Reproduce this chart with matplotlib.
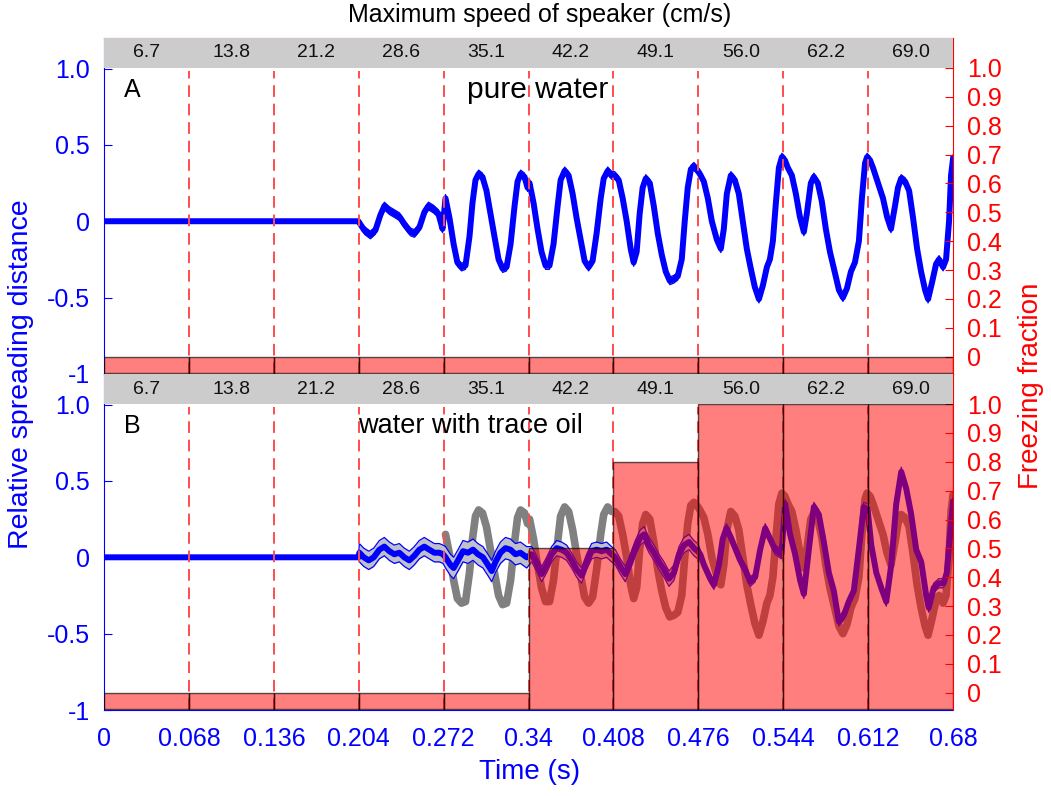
import numpy as np
import matplotlib
matplotlib.use('Agg')
import matplotlib.pyplot as plt

plt.rcParams['font.family'] = ['Liberation Sans', 'DejaVu Sans']

# ---------------- data ----------------
speeds = ['6.7', '13.8', '21.2', '28.6', '35.1', '42.2', '49.1', '56.0', '62.2', '69.0']
bin_edges = [0, 0.068, 0.136, 0.204, 0.272, 0.34, 0.408, 0.476, 0.544, 0.612, 0.68]
x_tick_labels = ['0', '0.068', '0.136', '0.204', '0.272', '0.34', '0.408', '0.476',
                 '0.544', '0.612', '0.68']
left_ticks = [-1, -0.5, 0, 0.5, 1.0]
left_tick_labels = ['-1', '-0.5', '0', '0.5', '1.0']
right_ticks = [0, 0.1, 0.2, 0.3, 0.4, 0.5, 0.6, 0.7, 0.8, 0.9, 1.0]
right_tick_labels = ['0', '0.1', '0.2', '0.3', '0.4', '0.5', '0.6', '0.7', '0.8', '0.9', '1.0']

freeze_A = [0, 0, 0, 0, 0, 0, 0, 0, 0, 0]
freeze_B = [0, 0, 0, 0, 0, 0.5, 0.8, 1.0, 1.0, 1.0]

# band half-width per speed interval
band_A = [0, 0, 0, 0.025, 0.025, 0.025, 0.025, 0.025, 0.025, 0.025]
band_B = [0, 0, 0, 0.06, 0.07, 0.05, 0.05, 0.03, 0.03, 0.03]

# pure water (panel A; also grey reference in panel B)
t_A = [0.0, 0.2037, 0.2085, 0.2133, 0.2173, 0.2213, 0.2245, 0.2285, 0.2326, 0.2366,
       0.2406, 0.2454, 0.2486, 0.2526, 0.2566, 0.2598, 0.2638, 0.2678, 0.2711,
       0.2735, 0.2767, 0.2800, 0.2830, 0.2863, 0.2895, 0.2927, 0.2951, 0.2975, 0.3000,
       0.3031, 0.3063, 0.3095, 0.3127, 0.3160, 0.3192, 0.3224, 0.3256, 0.3288, 0.3312,
       0.3336, 0.3368, 0.3392,
       0.3408, 0.3440, 0.3472, 0.3504, 0.3536, 0.3568, 0.3600, 0.3633, 0.3657, 0.3689,
       0.3721, 0.3753, 0.3785, 0.3817, 0.3849, 0.3881, 0.3913, 0.3945, 0.3978, 0.4002,
       0.4034, 0.4066,
       0.4090, 0.4122, 0.4154, 0.4186, 0.4218, 0.4242, 0.4266, 0.4290, 0.4314, 0.4339,
       0.4371, 0.4403, 0.4435, 0.4467, 0.4499, 0.4531, 0.4563, 0.4595, 0.4627, 0.4651,
       0.4675, 0.4700, 0.4724, 0.4756,
       0.4772, 0.4804, 0.4836, 0.4868, 0.4908, 0.4940, 0.4964, 0.4988, 0.5020, 0.5052,
       0.5084, 0.5116, 0.5148, 0.5180, 0.5212, 0.5245, 0.5277, 0.5309, 0.5333, 0.5357,
       0.5381, 0.5405, 0.5429, 0.5453,
       0.5477, 0.5509, 0.5541, 0.5573, 0.5605, 0.5629, 0.5661, 0.5685, 0.5717, 0.5749,
       0.5781, 0.5814, 0.5846, 0.5886, 0.5918, 0.5950, 0.5982, 0.6014, 0.6046, 0.6070,
       0.6095, 0.6111, 0.6135,
       0.6159, 0.6199, 0.6239, 0.6271, 0.6303, 0.6335, 0.6359, 0.6384, 0.6416, 0.6448,
       0.6480, 0.6512, 0.6544, 0.6576, 0.6600, 0.6632, 0.6664, 0.6688, 0.6720, 0.6744,
       0.6768, 0.6784, 0.6800]
y_A = [0.0, 0.0, -0.06, -0.09, -0.06, 0.04, 0.10, 0.07, 0.05, 0.03,
       -0.02, -0.07, -0.08, -0.04, 0.06, 0.10, 0.08, 0.05, -0.05,
       0.15, 0.02, -0.15, -0.27, -0.30, -0.29, -0.10, 0.12, 0.27, 0.31,
       0.29, 0.20, 0.05, -0.10, -0.25, -0.31, -0.30, -0.15, 0.10, 0.26,
       0.31, 0.29, 0.22,
       0.25, 0.12, -0.05, -0.20, -0.29, -0.29, -0.15, 0.10, 0.27, 0.33,
       0.30, 0.18, 0.02, -0.12, -0.26, -0.30, -0.26, -0.08, 0.15, 0.28,
       0.33, 0.30,
       0.30, 0.27, 0.15, 0.0, -0.18, -0.27, -0.20, 0.05, 0.22, 0.28,
       0.25, 0.10, -0.08, -0.22, -0.33, -0.39, -0.38, -0.36, -0.25, 0.0,
       0.22, 0.34, 0.36, 0.33,
       0.31, 0.26, 0.15, 0.0, -0.12, -0.18, -0.05, 0.18, 0.30, 0.27,
       0.18, 0.0, -0.18, -0.31, -0.43, -0.51, -0.42, -0.30, -0.25, -0.13,
       0.12, 0.35, 0.42, 0.40,
       0.35, 0.30, 0.18, 0.03, -0.07, 0.05, 0.25, 0.29, 0.25, 0.13,
       -0.05, -0.20, -0.31, -0.45, -0.50, -0.44, -0.33, -0.27, -0.13, 0.15,
       0.38, 0.42, 0.40,
       0.35, 0.25, 0.15, 0.03, -0.05, 0.10, 0.22, 0.28, 0.26, 0.20,
       0.02, -0.18, -0.33, -0.45, -0.51, -0.40, -0.28, -0.25, -0.30, -0.25,
       0.0, 0.30, 0.41]

# water with trace oil (panel B)
t_B = [0.0, 0.2037, 0.2045, 0.2080, 0.2120, 0.2160, 0.2205, 0.2245, 0.2285, 0.2325,
       0.2365, 0.2405, 0.2445, 0.2485, 0.2525, 0.2565, 0.2605, 0.2645, 0.2685, 0.2715,
       0.2735, 0.2775, 0.2800, 0.2835, 0.2875, 0.2915, 0.2955, 0.2995, 0.3035, 0.3075,
       0.3105, 0.3135, 0.3175, 0.3215, 0.3255, 0.3295, 0.3335, 0.3385,
       0.3425, 0.3465, 0.3505, 0.3545, 0.3585, 0.3625, 0.3665, 0.3705, 0.3745, 0.3785,
       0.3825, 0.3865, 0.3905, 0.3945, 0.3985, 0.4025, 0.4065,
       0.4095, 0.4135, 0.4175, 0.4215, 0.4255, 0.4295, 0.4325, 0.4365, 0.4405, 0.4445,
       0.4485, 0.4525, 0.4565, 0.4605, 0.4645, 0.4685, 0.4725, 0.4755,
       0.4775, 0.4805, 0.4855, 0.4885, 0.4925, 0.4955, 0.4985, 0.5015, 0.5055, 0.5095,
       0.5135, 0.5175, 0.5215, 0.5255, 0.5295, 0.5335, 0.5375, 0.5425,
       0.5455, 0.5495, 0.5535, 0.5575, 0.5605, 0.5645, 0.5685, 0.5725, 0.5765, 0.5805,
       0.5845, 0.5885, 0.5925, 0.5965, 0.6005, 0.6045, 0.6085, 0.6115,
       0.6145, 0.6185, 0.6225, 0.6265, 0.6305, 0.6345, 0.6385, 0.6425, 0.6465, 0.6505,
       0.6545, 0.6585, 0.6605, 0.6645, 0.6685, 0.6725, 0.6750, 0.6775, 0.6800]
y_B = [0.0, 0.0, 0.03, 0.0, -0.02, 0.0, 0.05, 0.07, 0.04, 0.02,
       0.03, 0.0, -0.02, 0.01, 0.05, 0.07, 0.05, 0.03, 0.03, 0.02,
       0.0, -0.05, -0.07, -0.02, 0.04, 0.03, 0.05, 0.02, 0.0, -0.05,
       -0.09, -0.03, 0.03, 0.06, 0.05, 0.02, 0.03, 0.0,
       0.02, -0.04, -0.11, -0.05, 0.02, 0.06, 0.05, 0.03, -0.02, -0.08,
       -0.12, -0.03, 0.04, 0.05, 0.04, 0.05, 0.02,
       0.0, -0.06, -0.11, -0.03, 0.06, 0.13, 0.15, 0.08, 0.03, -0.03,
       -0.08, -0.14, -0.10, 0.02, 0.08, 0.10, 0.06, 0.04,
       0.02, -0.05, -0.14, -0.18, -0.05, 0.12, 0.19, 0.14, 0.06, -0.02,
       -0.08, -0.16, -0.13, 0.05, 0.19, 0.12, 0.05, 0.02,
       0.35, 0.15, 0.02, -0.15, -0.24, 0.05, 0.33, 0.28, 0.10, -0.10,
       -0.22, -0.42, -0.38, -0.29, -0.22, 0.05, 0.33, 0.32,
       0.08, -0.10, -0.20, -0.29, -0.05, 0.35, 0.56, 0.45, 0.28, 0.05,
       -0.03, -0.25, -0.33, -0.20, -0.17, -0.17, -0.10, 0.15, 0.36]

pure_water_ref_start = 0.272

# ---------------- figure ----------------
fig = plt.figure(figsize=(10.51, 7.96), dpi=100)
pos_A = [0.0990, 0.5302, 0.8078, 0.4221]
pos_B = [0.0990, 0.1080, 0.8078, 0.4221]

BLUE = '#0000FF'
RED = '#FF0000'
R_TOP = 1.104


def band_for(t, bands):
    idx = np.clip(np.searchsorted(bin_edges, t, side='right') - 1, 0, len(bands) - 1)
    return np.array(bands)[idx]


def draw_panel(pos, t, y, bands, freeze, letter, label, label_x, label_size, show_ref):
    ax = fig.add_axes(pos)
    ax.set_xlim(0, 0.68)
    ax.set_ylim(-1, 1.2)
    t = np.array(t)
    y = np.array(y)
    if show_ref:
        tr = np.array(t_A)
        yr = np.array(y_A)
        m = tr >= pure_water_ref_start
        ax.plot(tr[m], yr[m], color='#808080', lw=5.5, zorder=2, solid_capstyle='round',
                solid_joinstyle='round')
    b = band_for(t, bands)
    ax.fill_between(t, y - b, y + b, color='#C0C0C8', zorder=3, lw=0)
    ax.plot(t, y - b, color=BLUE, lw=0.9, zorder=3)
    ax.plot(t, y + b, color=BLUE, lw=0.9, zorder=3)
    ax.plot(t, y, color=BLUE, lw=4.3, zorder=4, solid_joinstyle='round')
    for e in bin_edges[1:-1]:
        ax.plot([e, e], [-1, 0.985], color='#FF4D4D', lw=1.4, ls=(0, (6, 3.5)), zorder=5)
    ax.text(0.023, 0.86, letter, fontsize=18, ha='center', va='center', zorder=6)
    ax.text(label_x, 0.86, label, fontsize=label_size, ha='center', va='center', zorder=6)

    ax.set_yticks(left_ticks)
    ax.set_yticklabels(left_tick_labels)
    ax.tick_params(axis='y', direction='in', colors=BLUE, labelsize=18, length=6, pad=10)
    for s in ['top', 'right']:
        ax.spines[s].set_visible(False)
    ax.spines['left'].set_color(BLUE)
    ax.spines['bottom'].set_color(BLUE)

    ax2 = ax.twinx()
    ax2.set_ylim(-0.06, R_TOP)
    centers = [(bin_edges[i] + bin_edges[i + 1]) / 2 for i in range(len(freeze))]
    heights = [f + 0.055 for f in freeze]
    ax2.bar(centers, heights, bottom=-0.055, width=0.068, facecolor=(1, 0, 0, 0.5),
            edgecolor=(0, 0, 0, 0.65), lw=1.0, zorder=2)
    # grey header band with speaker speeds (drawn on the top layer)
    ax2.axhspan(1.0, R_TOP, facecolor='#CCCCCC', edgecolor='none', lw=0, zorder=3)
    for i, s in enumerate(speeds):
        ax2.text((bin_edges[i] + bin_edges[i + 1]) / 2, 1.052, s, ha='center', va='center',
                 fontsize=14, color='#111111', zorder=6)
    ax2.set_yticks(right_ticks)
    ax2.set_yticklabels(right_tick_labels)
    ax2.tick_params(axis='y', direction='in', colors=RED, labelsize=18, length=6, pad=10)
    ax2.spines['right'].set_color(RED)
    ax2.spines['top'].set_color(RED)
    ax2.spines['left'].set_visible(False)
    ax2.spines['bottom'].set_visible(False)
    return ax, ax2


axA, axA2 = draw_panel(pos_A, t_A, y_A, band_A, freeze_A, 'A', 'pure water', 0.347, 21.5, False)
axB, axB2 = draw_panel(pos_B, t_B, y_B, band_B, freeze_B, 'B', 'water with trace oil', 0.2935,
                       19.5, True)

axA.set_xticks([])
axA2.set_xticks([])
axB.set_xticks(bin_edges)
axB.set_xticklabels(x_tick_labels)
axB.tick_params(axis='x', colors=BLUE, labelsize=18, length=0, pad=12)
axB2.tick_params(axis='x', length=0)

fig.text(0.513, 0.981, 'Maximum speed of speaker (cm/s)', ha='center', va='center', fontsize=18)
fig.text(0.504, 0.030, 'Time (s)', ha='center', va='center', fontsize=20, color=BLUE)
fig.text(0.020, 0.530, 'Relative spreading distance', rotation=90, ha='center', va='center',
         fontsize=20.5, color=BLUE)
fig.text(0.981, 0.515, 'Freezing fraction', rotation=90, ha='center', va='center',
         fontsize=20, color=RED)

fig.savefig('out.png', dpi=100)
